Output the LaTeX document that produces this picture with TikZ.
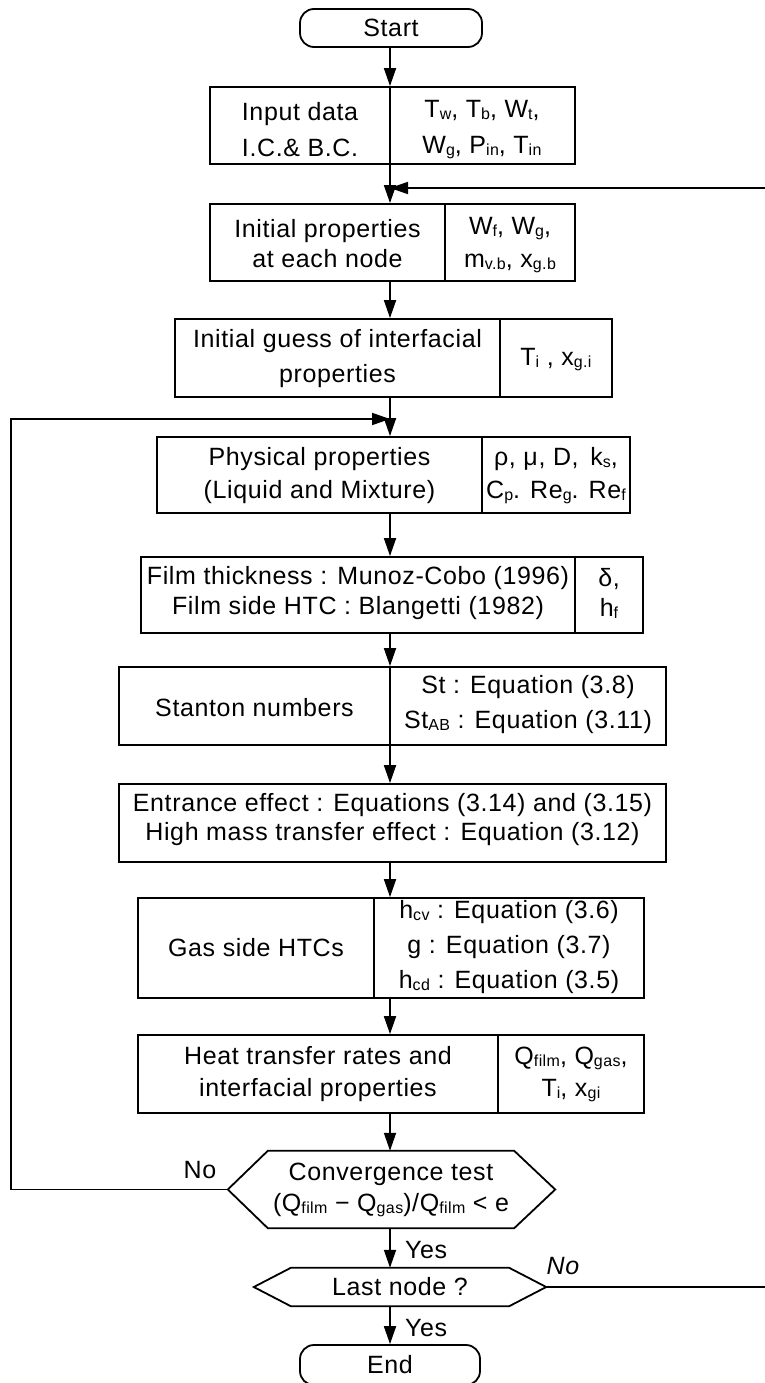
\documentclass[tikz,border=0pt]{standalone}
\usepackage{fontspec}
\setmainfont{Liberation Sans}[LetterSpace=2.5]
\usetikzlibrary{arrows.meta}
\newcommand{\sbx}[1]{\raisebox{-2pt}{\fontsize{16}{16}\selectfont #1}}
\begin{document}
\begin{tikzpicture}[x=1pt,y=-1pt,
  blk/.style={draw, line width=1.8pt, inner sep=0pt},
  term/.style={blk, rounded corners=14pt, font=\fontsize{25}{28}\selectfont},
  txt/.style={align=center, inner sep=0pt, font=\fontsize{25}{#1}\selectfont},
  txt/.default=32,
  lbl/.style={inner sep=0pt, font=\fontsize{25}{28}\selectfont},
  ln/.style={line width=1.8pt},
  arr/.style={line width=1.8pt, -{Triangle[length=18pt,width=12pt]}}]
\useasboundingbox (0,0) rectangle (764,1383);
\coordinate (ax) at (390,0);

% Start
\node[term, minimum width=182pt, minimum height=38pt] (start) at (391,28) {Start};

% Input data
\node[blk, minimum width=365pt, minimum height=77pt] (inp) at (392.5,125.5) {};
\draw[ln] (inp.north -| ax) -- (inp.south -| ax);
\node[txt=36] (inpL) at (300,130) {Input data\\I.C.\& B.C.};
\node[txt=36] (inpR) at (482,130) {T\sbx{w}, T\sbx{b}, W\sbx{t},\\W\sbx{g}, P\sbx{in}, T\sbx{in}};

% Initial properties
\node[blk, minimum width=365pt, minimum height=77pt] (prop) at (392.5,242.5) {};
\draw[ln] (prop.north -| 445,0) -- (prop.south -| 445,0);
\node[txt=30] (propL) at (327.5,244) {Initial properties\\at each node};
\node[txt=33] (propR) at (510,245) {W\sbx{f}, W\sbx{g},\\m\sbx{v.b}, x\sbx{g.b}};

% Initial guess
\node[blk, minimum width=437pt, minimum height=78pt] (guess) at (393.5,358) {};
\draw[ln] (guess.north -| 500,0) -- (guess.south -| 500,0);
\node[txt=35] (guessL) at (337.5,359) {Initial guess of interfacial\\properties};
\node[txt] (guessR) at (556,360) {T\sbx{i} , x\sbx{g.i}};

% Physical properties
\node[blk, minimum width=473pt, minimum height=76pt] (phys) at (393.5,475) {};
\draw[ln] (phys.north -| 482,0) -- (phys.south -| 482,0);
\node[txt=33] (physL) at (319.5,476) {Physical properties\\(Liquid and Mixture)};
\node[txt=33] (physR) at (556,476) {ρ, μ, D,\, k\sbx{s},\\C\sbx{p}. Re\sbx{g}. Re\sbx{f}};

% Film
\node[blk, minimum width=502pt, minimum height=76pt] (film) at (392,595) {};
\draw[ln] (film.north -| 575,0) -- (film.south -| 575,0);
\node[txt=30] (filmL) at (358,593) {Film thickness : Munoz-Cobo (1996)\\Film side HTC : Blangetti (1982)};
\node[txt=30] (filmR) at (609,593) {δ,\\h\sbx{f}};

% Stanton
\node[blk, minimum width=547pt, minimum height=78pt] (stan) at (392.5,706) {};
\draw[ln] (stan.north -| ax) -- (stan.south -| ax);
\node[txt] (stanL) at (254.5,708) {Stanton numbers};
\node[txt=35] (stanR) at (528,705) {St : Equation (3.8)\\St\sbx{AB} : Equation (3.11)};

% Entrance
\node[blk, minimum width=547pt, minimum height=78pt] (ent) at (392.5,823) {};
\node[txt=29] (entT) at (392.5,820) {Entrance effect : Equations (3.14) and (3.15)\\High mass transfer effect : Equation (3.12)};

% Gas side
\node[blk, minimum width=506pt, minimum height=100pt] (gas) at (391,948) {};
\draw[ln] (gas.north -| 374,0) -- (gas.south -| 374,0);
\node[txt] (gasL) at (256,948) {Gas side HTCs};
\node[txt=35] (gasR) at (509,947) {h\sbx{cv} : Equation (3.6)\\g : Equation (3.7)\\h\sbx{cd} : Equation (3.5)};

% Heat transfer
\node[blk, minimum width=506pt, minimum height=78pt] (heat) at (391,1074) {};
\draw[ln] (heat.north -| 498,0) -- (heat.south -| 498,0);
\node[txt=32] (heatL) at (318,1074) {Heat transfer rates and\\interfacial properties};
\node[txt=32] (heatR) at (571,1074) {Q\sbx{film}, Q\sbx{gas},\\T\sbx{i}, x\sbx{gi}};

% Convergence test
\node[txt=31, minimum width=246pt, minimum height=77pt] (conv) at (391,1189.5) {Convergence test\\(Q\sbx{film} − Q\sbx{gas})/Q\sbx{film} < e};
\coordinate (convL) at ([xshift=-40pt]conv.west);
\coordinate (convR) at ([xshift=41pt]conv.east);
\draw[ln] (conv.north west) -- (conv.north east) -- (convR) -- (conv.south east) -- (conv.south west) -- (convL) -- cycle;

% Last node
\node[txt, minimum width=218pt, minimum height=38pt] (last) at (400,1287) {Last node ?};
\coordinate (lastL) at ([xshift=-37pt]last.west);
\coordinate (lastR) at ([xshift=37pt]last.east);
\draw[ln] (last.north west) -- (last.north east) -- (lastR) -- (last.south east) -- (last.south west) -- (lastL) -- cycle;

% End
\node[term, minimum width=180pt, minimum height=40pt] (end) at (390,1365) {End};

% Labels
\node[lbl] (no1) at (200,1170) {No};
\node[lbl, anchor=west] (yes1) at (405,1250) {Yes};
\node[lbl, font=\fontsize{25}{28}\selectfont\itshape] (no2) at (563,1266) {No};
\node[lbl, anchor=west] (yes2) at (405,1328) {Yes};

% Main connectors
\draw[arr] (start.south -| ax) -- (inp.north -| ax);
\draw[arr] (inp.south -| ax) -- (prop.north -| ax);
\draw[arr] (prop.south -| ax) -- (guess.north -| ax);
\draw[arr] (guess.south -| ax) -- (phys.north -| ax);
\draw[arr] (phys.south -| ax) -- (film.north -| ax);
\draw[arr] (film.south -| ax) -- (stan.north -| ax);
\draw[arr] (stan.south -| ax) -- (ent.north -| ax);
\draw[arr] (ent.south -| ax) -- (gas.north -| ax);
\draw[arr] (gas.south -| ax) -- (heat.north -| ax);
\draw[arr] (heat.south -| ax) -- (conv.north -| ax);
\draw[arr] (conv.south -| ax) -- (last.north -| ax);
\draw[arr] (last.south -| ax) -- (end.north -| ax);

% Loops
\coordinate (loopIn) at (390,419);
\coordinate (fbIn) at (390,188);
\draw[arr] (convL) -| (11,419) -- (loopIn);
\draw[arr] (lastR) -- (776,1287) -- (776,188) -- (fbIn);
\end{tikzpicture}
\end{document}
